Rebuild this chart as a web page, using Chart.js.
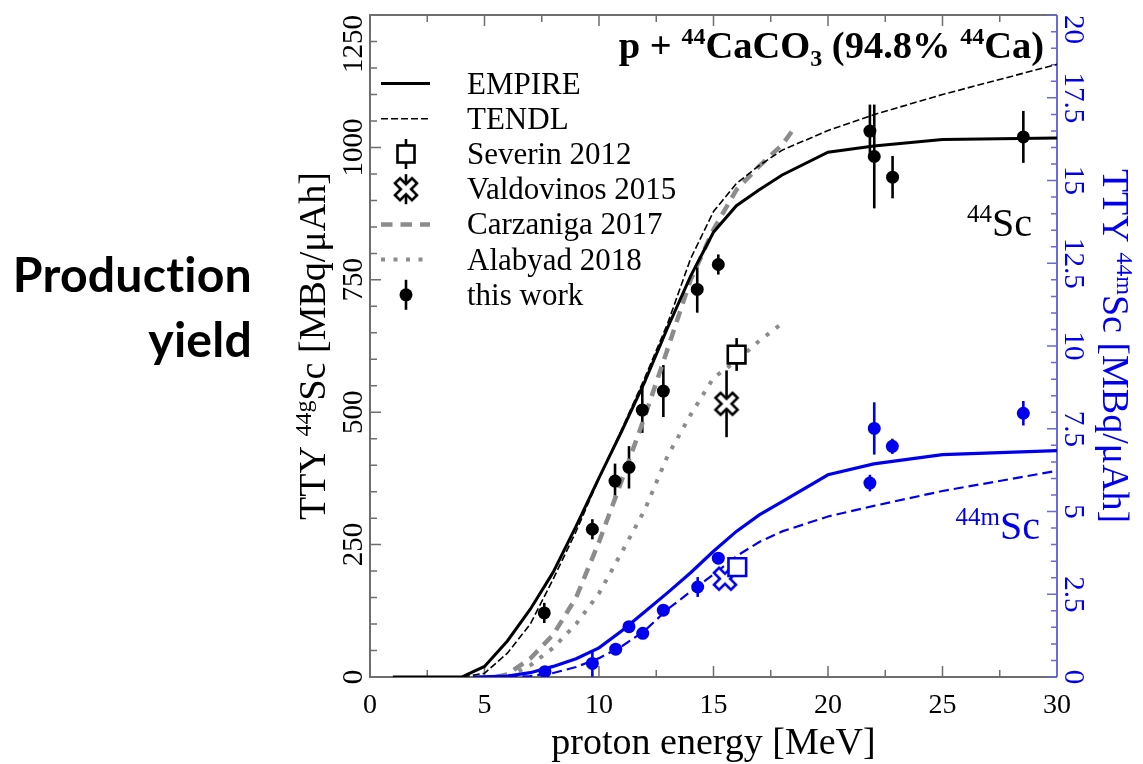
<!DOCTYPE html>
<html>
<head>
<meta charset="utf-8">
<title>Production yield</title>
<script src="https://cdn.jsdelivr.net/npm/chart.js@4.4.1/dist/chart.umd.min.js"></script>
<style>
  html, body { margin: 0; padding: 0; background: #fff; }
  canvas { display: block; }
</style>
</head>
<body>
<canvas id="yieldChart" width="1143" height="764"></canvas>
<script>
// ---- values ----
// model curves for 44gSc (left axis, MBq/uAh)
const empireGE = [1, 4, 5, 6, 7, 8, 9, 10, 11, 12, 13, 14, 15, 16, 17, 18, 20, 22, 25, 30];
const empireGY = [0, 0, 20, 68, 128, 198, 285, 376, 465, 558, 660, 757, 840, 890, 920, 948, 991, 1003, 1015, 1018];
const tendlGE = [1, 4, 5, 6, 7, 8, 9, 10, 11, 12, 13, 14, 15, 16, 17, 18, 20, 22, 25, 30];
const tendlGY = [0, 0, 7, 45, 100, 185, 275, 375, 468, 565, 668, 790, 879, 932, 966, 995, 1032, 1062, 1100, 1157];
const carzanigaE = [5.5, 6, 7, 8, 9, 10, 11, 12, 13, 14, 15, 16, 17, 18, 18.5];
const carzanigaY = [0, 5, 35, 80, 150, 255, 372, 492, 620, 750, 845, 920, 965, 1005, 1035];
const alabyadE = [6, 7, 8, 9, 10, 11, 12, 13, 14, 15, 16, 17, 18];
const alabyadY = [0, 22, 55, 100, 158, 236, 316, 418, 495, 565, 597, 635, 668];

// model curves for 44mSc (right axis)
const empireME = [4.5, 6, 7, 8, 9, 10, 11, 12, 13, 14, 15, 16, 17, 18, 20, 22, 25, 30];
const empireMY = [0, 0.03, 0.13, 0.32, 0.55, 0.88, 1.4, 1.97, 2.55, 3.15, 3.8, 4.4, 4.9, 5.3, 6.11, 6.44, 6.72, 6.84];
const tendlME = [6, 7, 8, 9, 10, 11, 12, 13, 14, 15, 16, 17, 18, 20, 22, 25, 30];
const tendlMY = [0, 0.03, 0.12, 0.3, 0.57, 0.93, 1.4, 2.05, 2.58, 3.1, 3.65, 4.08, 4.4, 4.85, 5.17, 5.62, 6.23];

// this work
const workGE = [7.61, 9.71, 10.7, 11.31, 11.89, 12.81, 14.29, 15.21, 21.83, 22.02, 22.82, 28.53];
const workG = [121, 279, 370, 396, 504, 540, 732, 779, 1031, 983, 944, 1020];
const workGErr = [19, 19, 33, 40, 43, 49, 44, 19, 50, 98, 40, 49];
const workME = [7.64, 9.71, 10.73, 11.31, 11.91, 12.81, 14.31, 15.21, 21.83, 22.02, 22.81, 28.53];
const workM = [0.16, 0.41, 0.84, 1.52, 1.32, 2.02, 2.72, 3.59, 5.86, 7.51, 6.97, 7.97];
const workMErr = [0.1, 0.4, 0.1, 0.1, 0.1, 0.1, 0.3, 0.1, 0.25, 0.79, 0.23, 0.37];

// other measurements
const severinGE = [16.01];
const severinG = [609];
const severinGErr = [31];
const severinME = [16.04];
const severinM = [3.32];
const valdovinosGE = [15.57];
const valdovinosG = [516];
const valdovinosGErr = [63];
const valdovinosME = [15.5];
const valdovinosM = [2.97];

// tick labels
const xTicks = [0, 5, 10, 15, 20, 25, 30];
const yTicks = [0, 250, 500, 750, 1000, 1250];
const y1Ticks = [0, 2.5, 5, 7.5, 10, 12.5, 15, 17.5, 20];
const legendNames = ['EMPIRE', 'TENDL', 'Severin 2012', 'Valdovinos 2015', 'Carzaniga 2017', 'Alabyad 2018', 'this work'];

// ---- styles ----
const SERIF = '"Liberation Serif", "Times New Roman", serif';
const BLUE = '#0000ee';
const BLUE_AXIS = '#6a6ad8';
const GRAY_AXIS = '#6e6e6e';
const GRAY_LINE = '#8c8c8c';

function toPoints(xs, ys) {
    return xs.map((x, i) => ({ x: x, y: ys[i] }));
}

// hollow "X" marker used for Valdovinos 2015
function crossMarker(color) {
    const size = 28;
    const c = document.createElement('canvas');
    c.width = size;
    c.height = size;
    const g = c.getContext('2d');
    const a = 3.6, L = 12;
    g.translate(size / 2, size / 2);
    g.rotate(Math.PI / 4);
    const pts = [[-a, -L], [a, -L], [a, -a], [L, -a], [L, a], [a, a], [a, L], [-a, L], [-a, a], [-L, a], [-L, -a], [-a, -a]];
    g.beginPath();
    pts.forEach((p, i) => i ? g.lineTo(p[0], p[1]) : g.moveTo(p[0], p[1]));
    g.closePath();
    g.fillStyle = '#fff';
    g.fill();
    g.lineWidth = 2.6;
    g.strokeStyle = color;
    g.lineJoin = 'miter';
    g.stroke();
    return c;
}
const crossBlack = crossMarker('#000');
const crossBlue = crossMarker(BLUE);

// text with superscripts (1) and subscripts (-1)
function drawRich(ctx, parts, x, y, size, align, weight) {
    const font = k => (weight ? weight + ' ' : '') + (k ? Math.round(size * 0.62) : size) + 'px ' + SERIF;
    let w = 0;
    parts.forEach(p => { ctx.font = font(p[1]); w += ctx.measureText(p[0]).width; });
    let cx = align === 'center' ? x - w / 2 : (align === 'right' ? x - w : x);
    ctx.textAlign = 'left';
    ctx.textBaseline = 'alphabetic';
    parts.forEach(p => {
        ctx.font = font(p[1]);
        const dy = p[1] === 1 ? -size * 0.36 : (p[1] === -1 ? size * 0.2 : 0);
        ctx.fillText(p[0], cx, y + dy);
        cx += ctx.measureText(p[0]).width;
    });
}

// frame, ticks and error bars (under the data)
const axesPlugin = {
    id: 'axesPlugin',
    beforeDatasetsDraw(chart) {
        const { ctx, chartArea: a, scales } = chart;
        const xs = scales.x, ys = scales.y, y1 = scales.y1;
        ctx.save();
        ctx.lineWidth = 2;
        ctx.strokeStyle = GRAY_AXIS;
        ctx.beginPath();
        ctx.moveTo(a.right, a.top);
        ctx.lineTo(a.left, a.top);
        ctx.lineTo(a.left, a.bottom);
        ctx.lineTo(a.right, a.bottom);
        ctx.stroke();

        ctx.lineWidth = 1.5;
        ctx.beginPath();
        for (let v = xs.min; v <= xs.max; v += 2.5) {
            const px = xs.getPixelForValue(v);
            const len = v % 5 === 0 ? 11 : 7;
            ctx.moveTo(px, a.bottom);
            ctx.lineTo(px, a.bottom - len);
            ctx.moveTo(px, a.top);
            ctx.lineTo(px, a.top + len);
        }
        for (let v = ys.min; v <= ys.max; v += 50) {
            const py = ys.getPixelForValue(v);
            const len = v % 250 === 0 ? 11 : 7;
            ctx.moveTo(a.left, py);
            ctx.lineTo(a.left + len, py);
        }
        ctx.stroke();

        ctx.strokeStyle = BLUE_AXIS;
        ctx.lineWidth = 2;
        ctx.beginPath();
        ctx.moveTo(a.right, a.top);
        ctx.lineTo(a.right, a.bottom);
        ctx.stroke();
        ctx.lineWidth = 1.5;
        ctx.beginPath();
        for (let v = y1.min; v <= y1.max; v += 0.5) {
            const py = y1.getPixelForValue(v);
            const len = v % 2.5 === 0 ? 10 : 6;
            ctx.moveTo(a.right, py);
            ctx.lineTo(a.right - len, py);
        }
        ctx.stroke();

        // error bars
        chart.data.datasets.forEach((ds, i) => {
            if (!ds.yErr) return;
            const sy = scales[chart.getDatasetMeta(i).yAxisID];
            ctx.strokeStyle = ds.borderColor;
            ctx.lineWidth = 2.6;
            ds.data.forEach((p, j) => {
                const px = xs.getPixelForValue(p.x);
                ctx.beginPath();
                ctx.moveTo(px, sy.getPixelForValue(p.y - ds.yErr[j]));
                ctx.lineTo(px, sy.getPixelForValue(p.y + ds.yErr[j]));
                ctx.stroke();
            });
        });
        ctx.restore();
    },
    afterDraw(chart) {
        const { ctx, chartArea: a, scales } = chart;
        const xs = scales.x, ys = scales.y, y1 = scales.y1;
        ctx.save();

        // tick labels
        ctx.fillStyle = '#000';
        ctx.font = '28px ' + SERIF;
        ctx.textAlign = 'center';
        ctx.textBaseline = 'alphabetic';
        xTicks.forEach(v => ctx.fillText(String(v), xs.getPixelForValue(v), a.bottom + 36));

        ctx.font = '29px ' + SERIF;
        yTicks.forEach(v => {
            const t = String(v);
            const w = ctx.measureText(t).width;
            const cy = Math.max(ys.getPixelForValue(v), a.top + w / 2);
            ctx.save();
            ctx.translate(a.left - 8, cy);
            ctx.rotate(-Math.PI / 2);
            ctx.fillText(t, 0, 0);
            ctx.restore();
        });
        ctx.fillStyle = BLUE;
        y1Ticks.forEach(v => {
            const t = String(v);
            const w = ctx.measureText(t).width;
            const cy = Math.max(y1.getPixelForValue(v), a.top + w / 2);
            ctx.save();
            ctx.translate(a.right + 8, cy);
            ctx.rotate(Math.PI / 2);
            ctx.fillText(t, 0, 0);
            ctx.restore();
        });

        // axis titles
        ctx.fillStyle = '#000';
        ctx.font = '38px ' + SERIF;
        ctx.textAlign = 'center';
        ctx.fillText('proton energy [MeV]', (a.left + a.right) / 2, a.bottom + 77);

        const midY = (a.top + a.bottom) / 2;
        ctx.save();
        ctx.translate(a.left - 45, midY);
        ctx.rotate(-Math.PI / 2);
        drawRich(ctx, [['TTY ', 0], ['44g', 1], ['Sc [MBq/\u03bcAh]', 0]], 0, 0, 38, 'center');
        ctx.restore();

        ctx.fillStyle = BLUE;
        ctx.save();
        ctx.translate(a.right + 46, midY);
        ctx.rotate(Math.PI / 2);
        drawRich(ctx, [['TTY ', 0], ['44m', 1], ['Sc [MBq/\u03bcAh]', 0]], 0, 0, 38, 'center');
        ctx.restore();

        // reaction title and isotope labels
        ctx.fillStyle = '#000';
        drawRich(ctx, [['p + ', 0], ['44', 1], ['CaCO', 0], ['3', -1], [' (94.8% ', 0], ['44', 1], ['Ca)', 0]],
            a.right - 13, a.top + 43, 38.5, 'right', 'bold');
        drawRich(ctx, [['44', 1], ['Sc', 0]], a.right - 25, a.top + 221, 40, 'right');
        ctx.fillStyle = BLUE;
        drawRich(ctx, [['44m', 1], ['Sc', 0]], a.right - 17, a.top + 524, 40, 'right');

        // legend
        const lx0 = a.left + 11, lx1 = a.left + 60, mx = a.left + 36, tx = a.left + 97;
        legendNames.forEach((name, i) => {
            const cy = a.top + 68.5 + i * 35.2;
            ctx.save();
            ctx.strokeStyle = '#000';
            ctx.fillStyle = '#000';
            if (i === 0 || i === 1 || i === 4 || i === 5) {
                ctx.beginPath();
                if (i === 0) { ctx.lineWidth = 3; }
                if (i === 1) { ctx.lineWidth = 1.6; ctx.setLineDash([7, 3]); }
                if (i === 4) { ctx.lineWidth = 4.5; ctx.strokeStyle = GRAY_LINE; ctx.setLineDash([11.5, 8]); }
                if (i === 5) { ctx.lineWidth = 4; ctx.strokeStyle = GRAY_LINE; ctx.setLineDash([4, 8.5]); }
                ctx.moveTo(lx0, cy);
                ctx.lineTo(lx1, cy);
                ctx.stroke();
            } else {
                ctx.lineWidth = 2.6;
                ctx.beginPath();
                ctx.moveTo(mx, cy - 15);
                ctx.lineTo(mx, cy + 15);
                ctx.stroke();
                if (i === 2) {
                    ctx.fillStyle = '#fff';
                    ctx.fillRect(mx - 8.5, cy - 8.5, 17, 17);
                    ctx.strokeRect(mx - 8.5, cy - 8.5, 17, 17);
                } else if (i === 3) {
                    ctx.drawImage(crossBlack, mx - 14, cy - 14);
                } else {
                    ctx.beginPath();
                    ctx.arc(mx, cy, 6.5, 0, Math.PI * 2);
                    ctx.fill();
                }
            }
            ctx.restore();
            ctx.fillStyle = '#000';
            ctx.font = '31px ' + SERIF;
            ctx.textAlign = 'left';
            ctx.textBaseline = 'alphabetic';
            ctx.fillText(name, tx, cy + 10);
        });

        // side caption
        ctx.fillStyle = '#000';
        if ('letterSpacing' in ctx) ctx.letterSpacing = '0.2px';
        ctx.font = 'bold 50px Lato, "Open Sans", sans-serif';
        const fit = 50 * 239 / ctx.measureText('Production').width;
        ctx.font = 'bold ' + fit.toFixed(1) + 'px Lato, "Open Sans", sans-serif';
        ctx.textAlign = 'right';
        ctx.fillText('Production', 252, 292);
        ctx.fillText('yield', 252, 357);
        ctx.restore();
    }
};

const datasets = [
    {
        label: 'this work 44gSc', data: toPoints(workGE, workG), yErr: workGErr, yAxisID: 'y',
        pointStyle: 'circle', pointRadius: 6.5, backgroundColor: '#000', borderColor: '#000', borderWidth: 0
    },
    {
        label: 'this work 44mSc', data: toPoints(workME, workM), yErr: workMErr, yAxisID: 'y1',
        pointStyle: 'circle', pointRadius: 6.5, backgroundColor: BLUE, borderColor: BLUE, borderWidth: 0
    },
    {
        label: 'Severin 2012', data: toPoints(severinGE, severinG), yErr: severinGErr, yAxisID: 'y',
        pointStyle: 'rect', pointRadius: 12.5, backgroundColor: '#fff', borderColor: '#000', borderWidth: 2.6
    },
    {
        label: 'Severin 2012 m', data: toPoints(severinME, severinM), yAxisID: 'y1',
        pointStyle: 'rect', pointRadius: 12.5, backgroundColor: '#fff', borderColor: BLUE, borderWidth: 2.6
    },
    {
        label: 'Valdovinos 2015', data: toPoints(valdovinosGE, valdovinosG), yErr: valdovinosGErr, yAxisID: 'y',
        pointStyle: crossBlack, borderColor: '#000'
    },
    {
        label: 'Valdovinos 2015 m', data: toPoints(valdovinosME, valdovinosM), yAxisID: 'y1',
        pointStyle: crossBlue, borderColor: BLUE
    },
    {
        label: 'EMPIRE g', data: toPoints(empireGE, empireGY), yAxisID: 'y', showLine: true, pointRadius: 0,
        borderColor: '#000', borderWidth: 3
    },
    {
        label: 'TENDL g', data: toPoints(tendlGE, tendlGY), yAxisID: 'y', showLine: true, pointRadius: 0,
        borderColor: '#000', borderWidth: 1.6, borderDash: [7, 3]
    },
    {
        label: 'EMPIRE m', data: toPoints(empireME, empireMY), yAxisID: 'y1', showLine: true, pointRadius: 0,
        borderColor: BLUE, borderWidth: 3.2
    },
    {
        label: 'TENDL m', data: toPoints(tendlME, tendlMY), yAxisID: 'y1', showLine: true, pointRadius: 0,
        borderColor: BLUE, borderWidth: 2.2, borderDash: [10, 5]
    },
    {
        label: 'Carzaniga 2017', data: toPoints(carzanigaE, carzanigaY), yAxisID: 'y', showLine: true, pointRadius: 0,
        borderColor: GRAY_LINE, borderWidth: 4.5, borderDash: [11.5, 8]
    },
    {
        label: 'Alabyad 2018', data: toPoints(alabyadE, alabyadY), yAxisID: 'y', showLine: true, pointRadius: 0,
        borderColor: GRAY_LINE, borderWidth: 4, borderDash: [4, 8.5]
    }
];

new Chart(document.getElementById('yieldChart').getContext('2d'), {
    type: 'scatter',
    data: { datasets: datasets },
    options: {
        responsive: false,
        animation: false,
        events: [],
        layout: { padding: { left: 370, top: 13, right: 86, bottom: 87 } },
        plugins: { legend: { display: false }, tooltip: { enabled: false } },
        scales: {
            x: { type: 'linear', min: 0, max: 30, display: false },
            y: { type: 'linear', position: 'left', min: 0, max: 1250, display: false },
            y1: { type: 'linear', position: 'right', min: 0, max: 20, display: false }
        }
    },
    plugins: [axesPlugin]
});
</script>
</body>
</html>
